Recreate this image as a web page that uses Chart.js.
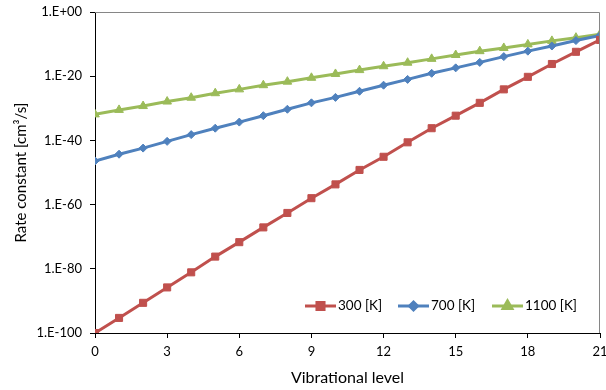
<!DOCTYPE html>
<html>
<head>
<meta charset="utf-8">
<script src="https://cdn.jsdelivr.net/npm/chart.js@4/dist/chart.umd.min.js"></script>
<style>
    html, body { margin: 0; padding: 0; background: #ffffff; }
    #wrap { width: 606px; height: 390px; }
</style>
</head>
<body>
<div id="wrap"><canvas id="rate-chart" width="606" height="390"></canvas></div>
<script>
// Vibrational levels (x axis)
const levels = [0, 1, 2, 3, 4, 5, 6, 7, 8, 9, 10, 11, 12, 13, 14, 15, 16, 17, 18, 19, 20, 21];

// Rate constants, stored as log10 exponents
const exp300 = [-100, -95.3, -90.6, -85.8, -81.1, -76.2, -71.7, -67.1, -62.6, -58.0, -53.7, -49.2,
                -45.1, -40.6, -36.2, -32.3, -28.3, -24.1, -20.2, -16.2, -12.4, -8.7];
const exp700 = [-46.4, -44.3, -42.4, -40.3, -38.2, -36.2, -34.3, -32.3, -30.3, -28.3, -26.6, -24.7,
                -22.8, -21.0, -19.1, -17.4, -15.7, -13.9, -12.2, -10.6, -8.9, -7.3];
const exp1100 = [-31.9, -30.5, -29.3, -27.9, -26.7, -25.3, -24.1, -22.8, -21.7, -20.5, -19.3, -18.1,
                 -16.9, -15.8, -14.6, -13.4, -12.2, -11.2, -10.1, -9.0, -8.0, -6.9];

const seriesLabels = ['300 [K]', '700 [K]', '1100 [K]'];

// Axis ticks
const xTicks = [0, 3, 6, 9, 12, 15, 18, 21];
const yTickExps = [-100, -80, -60, -40, -20, 0];

const RED = '#C0504D';
const BLUE = '#4F81BD';
const GREEN = '#9BBB59';
const FONT = 'Lato, "Open Sans", sans-serif';

function toPoints(exps) {
    return levels.map((lv, i) => ({ x: lv, y: Math.pow(10, exps[i]) }));
}

// Excel style label: 1.E-20, 1.E+00
function formatPower(value) {
    const e = Math.round(Math.log10(value));
    const sign = e < 0 ? '-' : '+';
    const abs = Math.abs(e);
    return '1.E' + sign + (abs < 10 ? '0' + abs : abs);
}

function makeDataset(label, exps, color, style, radius) {
    return {
        label: label,
        data: toPoints(exps),
        borderColor: color,
        backgroundColor: color,
        pointBackgroundColor: color,
        pointBorderColor: color,
        pointStyle: style,
        pointRadius: radius,
        pointBorderWidth: 1,
        borderWidth: 3,
        tension: 0
    };
}

const datasets = [
    makeDataset(seriesLabels[0], exp300, RED, 'rect', 5),
    makeDataset(seriesLabels[1], exp700, BLUE, 'rectRot', 4),
    makeDataset(seriesLabels[2], exp1100, GREEN, 'triangle', 5)
];

// Frame, axis titles and the inside legend
const decorPlugin = {
    id: 'decor',
    afterDraw(chart) {
        const ctx = chart.ctx;
        const area = chart.chartArea;
        ctx.save();

        // grey top and right edges of the plot area
        ctx.strokeStyle = '#868686';
        ctx.lineWidth = 1;
        ctx.beginPath();
        ctx.moveTo(area.left, area.top + 0.5);
        ctx.lineTo(area.right - 0.5, area.top + 0.5);
        ctx.lineTo(area.right - 0.5, area.bottom);
        ctx.stroke();

        // axis titles, centred on the plot area
        const midX = (area.left + area.right) / 2;
        const midY = (area.top + area.bottom) / 2;
        ctx.fillStyle = '#000000';
        ctx.textAlign = 'center';
        ctx.textBaseline = 'middle';
        ctx.font = '16px ' + FONT;
        ctx.fillText('Vibrational level', midX, 378);

        ctx.font = '15px ' + FONT;
        ctx.translate(21, midY);
        ctx.rotate(-Math.PI / 2);
        ctx.fillText('Rate constant [cm\u00B3/s]', 0, 0);
        ctx.setTransform(1, 0, 0, 1, 0, 0);

        // legend
        const legendX = [305, 398, 492];
        const legendY = 306;
        ctx.font = '13.5px ' + FONT;
        ctx.textAlign = 'left';
        chart.data.datasets.forEach((ds, i) => {
            const x0 = legendX[i];
            ctx.strokeStyle = ds.borderColor;
            ctx.lineWidth = 3;
            ctx.beginPath();
            ctx.moveTo(x0, legendY);
            ctx.lineTo(x0 + 31, legendY);
            ctx.stroke();
            Chart.helpers.drawPoint(ctx, {
                pointStyle: ds.pointStyle,
                radius: ds.pointRadius,
                borderWidth: 1,
                rotation: 0
            }, x0 + 15.5, legendY);
            ctx.fillStyle = ds.backgroundColor;
            ctx.fill();
            ctx.fillStyle = '#000000';
            ctx.fillText(ds.label, x0 + 33, legendY);
        });

        ctx.restore();
    }
};

const ctx = document.getElementById('rate-chart').getContext('2d');

const rateChart = new Chart(ctx, {
    type: 'line',
    data: { datasets: datasets },
    options: {
        responsive: false,
        animation: false,
        layout: { padding: { top: 12, right: 3, left: 0, bottom: 0 } },
        plugins: {
            legend: { display: false },
            tooltip: { enabled: false }
        },
        scales: {
            x: {
                type: 'linear',
                min: 0,
                max: 21,
                afterBuildTicks: (scale) => {
                    scale.ticks = xTicks.map(v => ({ value: v }));
                },
                afterFit: (scale) => {
                    scale.height = 57;
                    scale.paddingLeft = 0;
                    scale.paddingRight = 0;
                },
                ticks: {
                    color: '#000000',
                    font: { family: FONT, size: 13 },
                    padding: 6,
                    maxRotation: 0
                },
                grid: {
                    drawOnChartArea: false,
                    drawTicks: true,
                    tickLength: 5,
                    color: '#000000'
                },
                border: { display: true, color: '#000000', width: 1 }
            },
            y: {
                type: 'logarithmic',
                min: 1e-100,
                max: 1,
                afterBuildTicks: (scale) => {
                    scale.ticks = yTickExps.map(e => ({ value: Math.pow(10, e) }));
                },
                afterFit: (scale) => {
                    scale.width = 95;
                    scale.paddingTop = 0;
                    scale.paddingBottom = 0;
                },
                ticks: {
                    color: '#000000',
                    font: { family: FONT, size: 13 },
                    padding: 8,
                    autoSkip: false,
                    callback: (value) => formatPower(value)
                },
                grid: {
                    drawOnChartArea: false,
                    drawTicks: true,
                    tickLength: 5,
                    color: '#000000'
                },
                border: { display: true, color: '#000000', width: 1 }
            }
        }
    },
    plugins: [decorPlugin]
});
</script>
</body>
</html>
